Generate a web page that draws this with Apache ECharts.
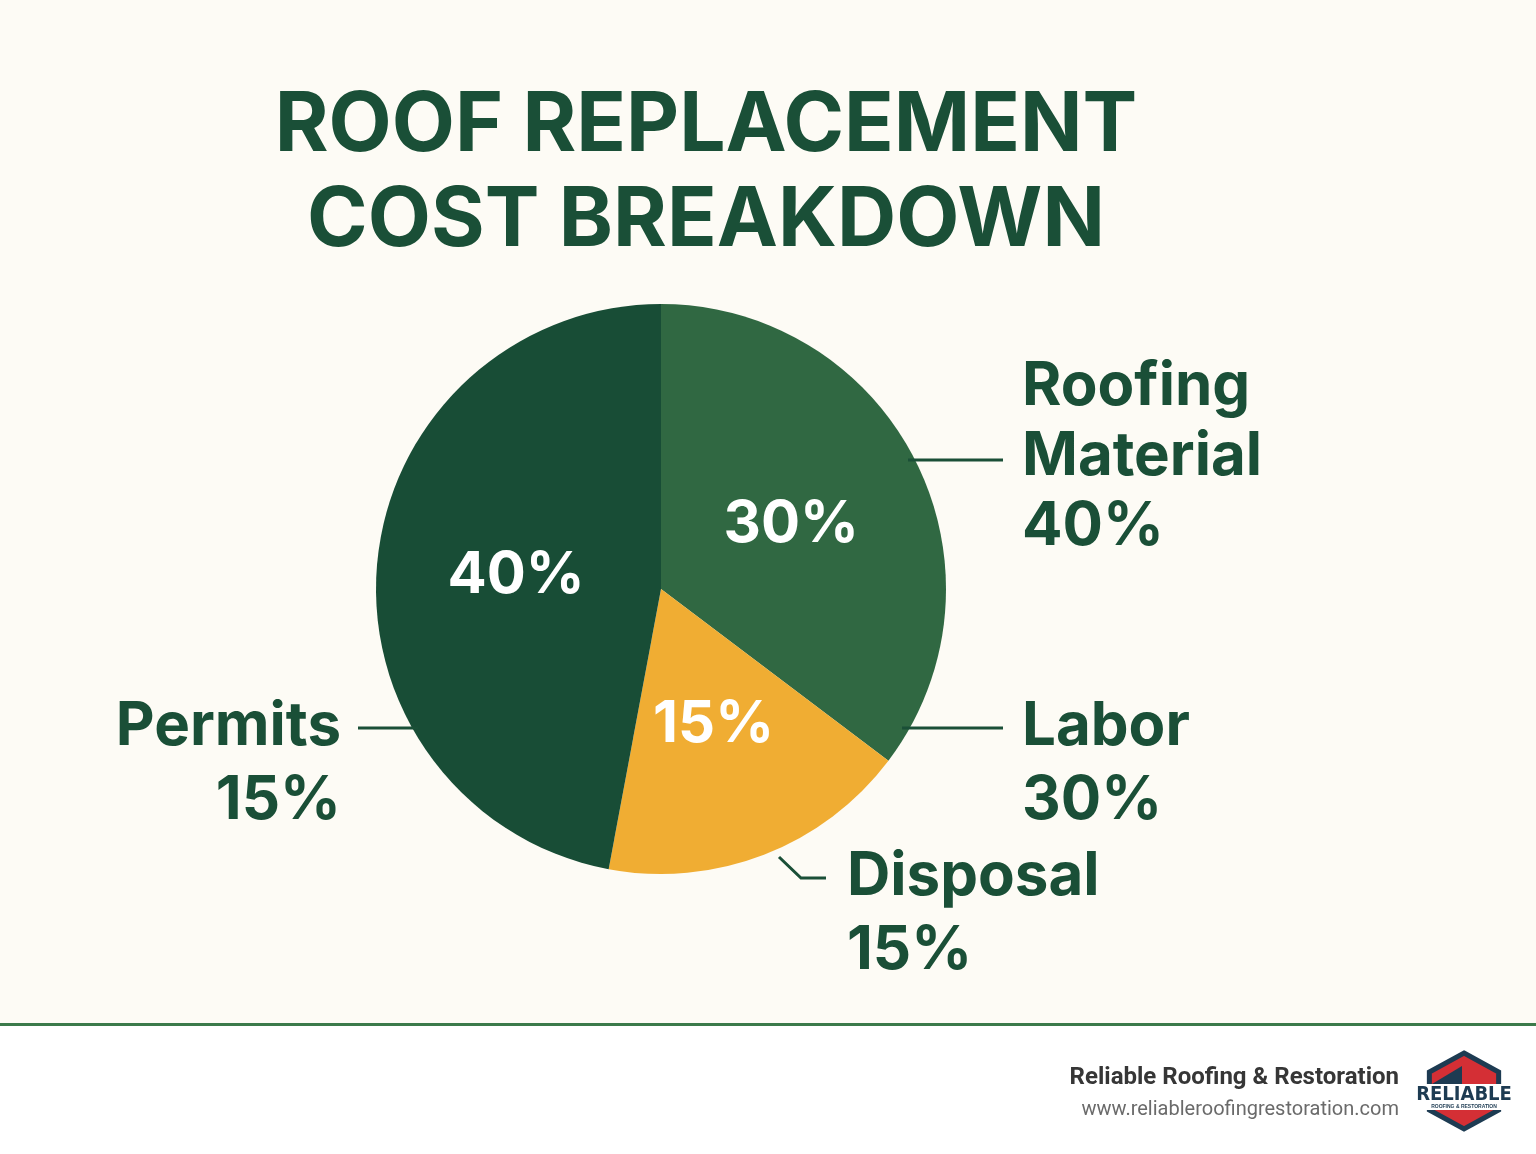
<!DOCTYPE html>
<html>
<head>
<meta charset="utf-8">
<script src="https://cdn.jsdelivr.net/npm/echarts@6/dist/echarts.min.js"></script>
<style>
html,body{margin:0;padding:0;background:#fdfbf5;}
#chart{width:1536px;height:1154px;}
</style>
</head>
<body>
<div id="chart"></div>
<script>
// Slices as drawn (clockwise from 12 o'clock)
const sliceNames = ['Roofing Material', 'Labor', 'Permits'];
const sliceValues = [30, 15, 40];
const sliceColors = ['#306842', '#f0ad33', '#184d36'];

// Callout annotations
const calloutNames = ['Roofing\nMaterial', 'Labor', 'Disposal', 'Permits'];
const calloutValues = [40, 30, 15, 15];

const titleLines = ['ROOF REPLACEMENT', 'COST BREAKDOWN'];
const brandName = 'Reliable Roofing & Restoration';
const brandUrl = 'www.reliableroofingrestoration.com';

const dark = '#1a4f37';
const chart = echarts.init(document.getElementById('chart'));

const calloutPos = [
  {x: 1022, y: 352, align: 'left', lh: 70},
  {x: 1022, y: 690, align: 'left', lh: 74},
  {x: 847, y: 840, align: 'left', lh: 74},
  {x: 341, y: 690, align: 'right', lh: 74}
];
const leaders = [
  [[908, 460], [1003, 460]],
  [[902, 728], [1003, 728]],
  [[779, 857], [801, 878], [826, 878]],
  [[358, 728], [418, 728]]
];

const graphics = [
  {type: 'rect', shape: {x: 0, y: 1026, width: 1536, height: 128}, style: {fill: '#ffffff'}, z: 0},
  {type: 'rect', shape: {x: 0, y: 1023, width: 1536, height: 3}, style: {fill: '#3b7a4a'}, z: 1}
];
calloutNames.forEach((n, i) => {
  const p = calloutPos[i];
  graphics.push({
    type: 'text', x: p.x, y: p.y, z: 10,
    style: {
      text: n + '\n' + calloutValues[i] + '%',
      fill: dark, font: 'bold 60px Inter, "Noto Sans", sans-serif',
      lineHeight: p.lh, align: p.align, verticalAlign: 'top'
    }
  });
  graphics.push({
    type: 'polyline', z: 10,
    shape: {points: leaders[i]},
    style: {stroke: dark, lineWidth: 3, fill: null}
  });
});
// footer text
graphics.push({
  type: 'text', x: 1399, y: 1078, z: 10,
  style: {text: brandName, fill: '#363636', font: 'bold 24px Roboto, Inter, sans-serif', align: 'right', verticalAlign: 'middle'}
});
graphics.push({
  type: 'text', x: 1399, y: 1110, z: 10,
  style: {text: brandUrl, fill: '#6a6a6a', font: '20px Roboto, Inter, sans-serif', align: 'right', verticalAlign: 'middle'}
});
// logo
const cx = 1464, cy = 1091;
const hex = [];
for (let k = 0; k < 6; k++) {
  const a = Math.PI / 180 * (60 * k - 90);
  hex.push([cx + 40 * Math.cos(a), cy + 38 * Math.sin(a)]);
}
graphics.push({type: 'polygon', z: 10, shape: {points: hex}, style: {fill: '#d42f35', stroke: '#1d3b52', lineWidth: 5}});
graphics.push({type: 'polygon', z: 11, shape: {points: [[1432, 1084], [1462, 1066], [1462, 1084]]}, style: {fill: '#1d3b52'}});
graphics.push({type: 'rect', z: 11, shape: {x: 1422, y: 1084, width: 84, height: 26}, style: {fill: '#ffffff'}});
graphics.push({
  type: 'text', x: cx, y: 1095, z: 12,
  style: {text: 'RELIABLE', fill: '#1d3b52', font: 'bold 20px "DejaVu Sans Condensed", "Liberation Sans Narrow", sans-serif', align: 'center', verticalAlign: 'middle'}
});
graphics.push({
  type: 'text', x: cx, y: 1107, z: 12,
  style: {text: 'ROOFING & RESTORATION', fill: '#1d3b52', font: 'bold 5px sans-serif', align: 'center', verticalAlign: 'middle'}
});

chart.setOption({
  backgroundColor: '#fdfbf5',
  animation: false,
  title: {
    text: titleLines.join('\n'),
    left: 701, top: 74, textAlign: 'center',
    textStyle: {color: dark, fontSize: 82, fontWeight: 'bold', fontFamily: 'Inter, "Noto Sans", sans-serif', lineHeight: 95}
  },
  series: [{
    type: 'pie',
    center: [661, 589],
    radius: [0, 285],
    startAngle: 90,
    clockwise: true,
    silent: true,
    label: {
      show: true, position: 'inside',
      formatter: p => p.value + '%',
      color: '#ffffff', fontSize: 58, fontWeight: 'bold', fontFamily: 'Inter, "Noto Sans", sans-serif'
    },
    labelLine: {show: false},
    itemStyle: {borderWidth: 0},
    data: sliceNames.map((n, i) => ({name: n, value: sliceValues[i], itemStyle: {color: sliceColors[i]}}))
  }],
  graphic: graphics
});
</script>
</body>
</html>
